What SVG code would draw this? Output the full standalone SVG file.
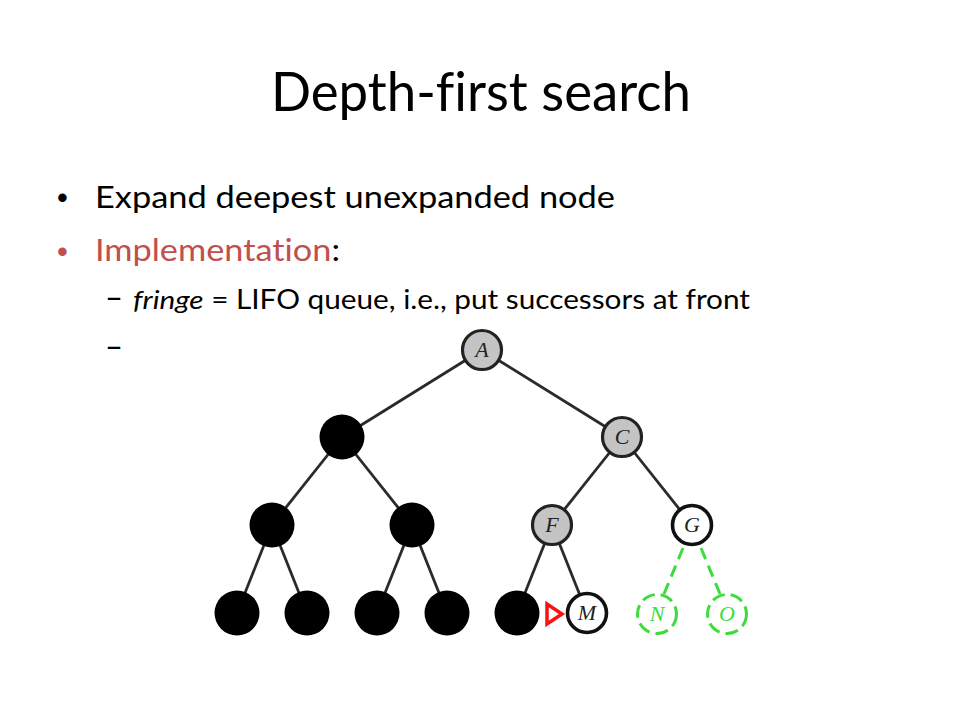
<svg xmlns="http://www.w3.org/2000/svg" width="960" height="720" viewBox="0 0 960 720">
<style>
.body{font-family:Lato,"Open Sans","Liberation Sans",sans-serif;fill:#000;font-variant-ligatures:none;font-feature-settings:"liga" 0,"clig" 0}
.edge{stroke:#2a2a2a;stroke-width:2.8;fill:none}
.gedge{stroke:#3ddc3d;stroke-width:3;fill:none;stroke-dasharray:12 7}
.blk{fill:#000}
.gray{fill:#c4c4c4;stroke:#222;stroke-width:3.2}
.wht{fill:#fff;stroke:#111;stroke-width:3.6}
.grn{fill:#fff;stroke:#3ddc3d;stroke-width:3;stroke-dasharray:13 6}
.lbl{font-family:"Liberation Serif","DejaVu Serif",serif;font-style:italic;font-size:22px;text-anchor:middle;fill:#222}
.glbl{font-family:"Liberation Serif","DejaVu Serif",serif;font-style:italic;font-size:22px;text-anchor:middle;fill:#3ddc3d}
</style>
<rect width="960" height="720" fill="#fff"/>
<text class="body" x="481" y="111" font-size="54" text-anchor="middle" textLength="420" lengthAdjust="spacingAndGlyphs">Depth-first search</text>
<text x="57" y="208" font-family="'Liberation Sans',Arial,sans-serif" font-size="31" fill="#000">•</text>
<text class="body" x="95" y="208" font-size="31" textLength="520" lengthAdjust="spacingAndGlyphs">Expand deepest unexpanded node</text>
<text x="57" y="262" font-family="'Liberation Sans',Arial,sans-serif" font-size="31" fill="#c0504d">•</text>
<text class="body" x="95" y="261" font-size="31" textLength="245" lengthAdjust="spacingAndGlyphs"><tspan fill="#c0504d">Implementation</tspan>:</text>
<text class="body" x="105" y="309" font-size="34" textLength="18" lengthAdjust="spacingAndGlyphs">–</text>
<text class="body" x="133" y="309" font-size="26" textLength="617" lengthAdjust="spacingAndGlyphs"><tspan font-style="italic">fringe</tspan> = LIFO queue, i.e., put successors at front</text>
<text class="body" x="105" y="358" font-size="34" textLength="18" lengthAdjust="spacingAndGlyphs">–</text>
<g id="connectors">
<line class="edge" x1="482" y1="350" x2="342" y2="437"/>
<line class="edge" x1="482" y1="350" x2="622" y2="437"/>
<line class="edge" x1="342" y1="437" x2="272" y2="525"/>
<line class="edge" x1="342" y1="437" x2="412" y2="525"/>
<line class="edge" x1="622" y1="437" x2="552" y2="525"/>
<line class="edge" x1="622" y1="437" x2="692" y2="525"/>
<line class="edge" x1="272" y1="525" x2="237" y2="613"/>
<line class="edge" x1="272" y1="525" x2="307" y2="613"/>
<line class="edge" x1="412" y1="525" x2="377" y2="613"/>
<line class="edge" x1="412" y1="525" x2="447" y2="613"/>
<line class="edge" x1="552" y1="525" x2="517" y2="613"/>
<line class="edge" x1="552" y1="525" x2="587" y2="613"/>
<line class="gedge" x1="683" y1="548" x2="664" y2="594"/>
<line class="gedge" x1="701" y1="548" x2="720" y2="594"/>
</g>
<g id="node-A"><circle class="gray" cx="482" cy="350" r="19.5"/><text class="lbl" x="482" y="357">A</text></g>
<g id="node-B"><circle class="blk" cx="342" cy="437" r="22.5"/></g>
<g id="node-C"><circle class="gray" cx="622" cy="437" r="19.5"/><text class="lbl" x="622" y="444">C</text></g>
<g id="node-D"><circle class="blk" cx="272" cy="525" r="22.5"/></g>
<g id="node-E"><circle class="blk" cx="412" cy="525" r="22.5"/></g>
<g id="node-F"><circle class="gray" cx="552" cy="525" r="19.5"/><text class="lbl" x="552" y="532">F</text></g>
<g id="node-G"><circle class="wht" cx="692" cy="525" r="19.5"/><text class="lbl" x="692" y="532">G</text></g>
<g id="node-H"><circle class="blk" cx="237" cy="613" r="22.5"/></g>
<g id="node-I"><circle class="blk" cx="307" cy="613" r="22.5"/></g>
<g id="node-J"><circle class="blk" cx="377" cy="613" r="22.5"/></g>
<g id="node-K"><circle class="blk" cx="447" cy="613" r="22.5"/></g>
<g id="node-L"><circle class="blk" cx="517" cy="613" r="22.5"/></g>
<g id="node-M"><circle class="wht" cx="587" cy="613" r="19.5"/><text class="lbl" x="587" y="620">M</text></g>
<g id="node-N"><circle class="grn" cx="657" cy="614" r="19.5"/><text class="glbl" x="657" y="621">N</text></g>
<g id="node-O"><circle class="grn" cx="727" cy="614" r="19.5"/><text class="glbl" x="727" y="621">O</text></g>
<g id="pointer"><polygon points="547,604 547,624 562,614" fill="#fff" stroke="#ff1010" stroke-width="3.5" stroke-linejoin="miter"/></g>
</svg>
